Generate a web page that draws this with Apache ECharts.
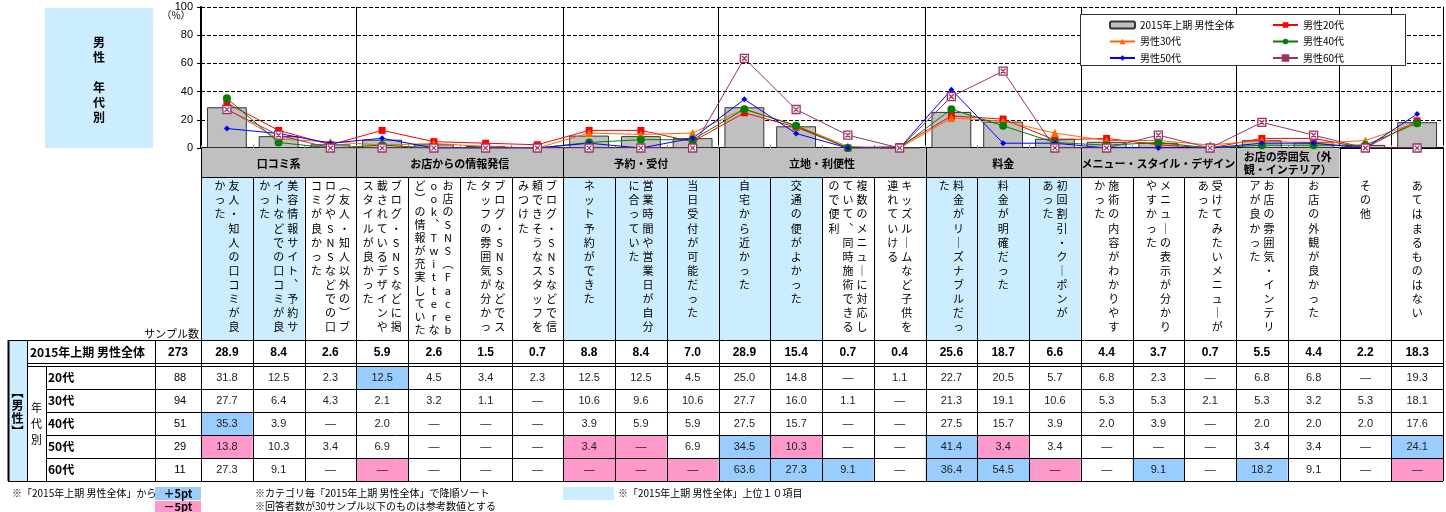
<!DOCTYPE html>
<html>
<head>
<meta charset="utf-8">
<title>男性 年代別</title>
<script src="https://cdn.jsdelivr.net/npm/echarts@6/dist/echarts.min.js"></script>
<style>
html, body { margin: 0; padding: 0; background: #fff; }
#main { width: 1446px; height: 512px; }
</style>
</head>
<body>
<div id="main"></div>
<script>
// 項目（\n は縦書きの折り返し位置）
const categories = [
    '友人・知人の口コミが良\nかった',
    '美容情報サイト、予約サ\nイトなどでの口コミが良\nかった',
    '（友人・知人以外の）ブ\nログやSNSなどでの口\nコミが良かった',
    'ブログ・SNSなどに掲\n載されているデザインや\nスタイルが良かった',
    'お店のSNS（Faceb\nook、Twitterな\nど）の情報が充実していた',
    'ブログ・SNSなどでス\nタッフの雰囲気が分かっ\nた',
    'ブログ・SNSなどで信\n頼できそうなスタッフを\nみつけた',
    'ネット予約ができた',
    '営業時間や営業日が自分\nに合っていた',
    '当日受付が可能だった',
    '自宅から近かった',
    '交通の便がよかった',
    '複数のメニューに対応し\nていて、同時施術できる\nので便利',
    'キッズルームなど子供を\n連れていける',
    '料金がリーズナブルだっ\nた',
    '料金が明確だった',
    '初回割引・クーポンが\nあった',
    '施術の内容がわかりやす\nかった',
    'メニューの表示が分かり\nやすかった',
    '受けてみたいメニューが\nあった',
    'お店の雰囲気・インテリ\nアが良かった',
    'お店の外観が良かった',
    'その他',
    'あてはまるものはない'
];

// カテゴリ見出し（空文字は見出しなし）
const groupNames = ['口コミ系', 'お店からの情報発信', '予約・受付', '立地・利便性', '料金',
    'メニュー・スタイル・デザイン', 'お店の雰囲気（外\n観・インテリア）', '', ''];
const groupSizes = [3, 4, 3, 4, 3, 3, 2, 1, 1];

// 「2015年上期 男性全体」上位10項目
const top10 = [0, 1, 7, 8, 9, 10, 11, 14, 15, 16];

const seriesNames = ['2015年上期 男性全体', '男性20代', '男性30代', '男性40代', '男性50代', '男性60代'];
const rowLabels = ['20代', '30代', '40代', '50代', '60代'];

const totalSample = 273;
const ageSamples = [88, 94, 51, 29, 11];

const allMale = [28.9, 8.4, 2.6, 5.9, 2.6, 1.5, 0.7, 8.8, 8.4, 7.0, 28.9, 15.4, 0.7, 0.4, 25.6, 18.7, 6.6, 4.4, 3.7, 0.7, 5.5, 4.4, 2.2, 18.3];
// null は「—」
const age20 = [31.8, 12.5, 2.3, 12.5, 4.5, 3.4, 2.3, 12.5, 12.5, 4.5, 25.0, 14.8, null, 1.1, 22.7, 20.5, 5.7, 6.8, 2.3, null, 6.8, 6.8, null, 19.3];
const age30 = [27.7, 6.4, 4.3, 2.1, 3.2, 1.1, null, 10.6, 9.6, 10.6, 27.7, 16.0, 1.1, null, 21.3, 19.1, 10.6, 5.3, 5.3, 2.1, 5.3, 3.2, 5.3, 18.1];
const age40 = [35.3, 3.9, null, 2.0, null, null, null, 3.9, 5.9, 5.9, 27.5, 15.7, null, null, 27.5, 15.7, 3.9, 2.0, 3.9, null, 2.0, 2.0, 2.0, 17.6];
const age50 = [13.8, 10.3, 3.4, 6.9, null, null, null, 3.4, null, 6.9, 34.5, 10.3, null, null, 41.4, 3.4, 3.4, null, null, null, 3.4, 3.4, null, 24.1];
const age60 = [27.3, 9.1, null, null, null, null, null, null, null, null, 63.6, 27.3, 9.1, null, 36.4, 54.5, null, null, 9.1, null, 18.2, 9.1, null, null];

const ageData = [age20, age30, age40, age50, age60];

const JP = '"Noto Sans CJK JP"';
const NUM = '"Liberation Sans", Arial';

// 表のレイアウト
const X0 = 201, CW = 51.75;
const colX = i => X0 + i * CW;
const Y_HEAD = 148, Y_TEXT = 177, Y_TBL = 340, Y_TOT = 363, Y_ROW = 366, ROW_H = 23, Y_END = 481;
const X_END = colX(categories.length);

let g = [];
const px = v => Math.round(v) + 0.5;
function addRect(x, y, w, h, fill, z, stroke) {
    g.push({ type: 'rect', z: z || 1, silent: true, shape: { x: x, y: y, width: w, height: h },
        style: { fill: fill, stroke: stroke || null, lineWidth: 1 } });
}
function addLine(x1, y1, x2, y2, w) {
    if (x1 === x2) { x1 = x2 = px(x1); } else { y1 = y2 = px(y1); }
    g.push({ type: 'line', z: 5, silent: true, shape: { x1: x1, y1: y1, x2: x2, y2: y2 },
        style: { stroke: '#000', lineWidth: w || 1 } });
}
function addText(x, y, s, font, align, vAlign, extra) {
    let style = Object.assign({ text: s, fill: '#000', font: font,
        align: align, textAlign: align, verticalAlign: vAlign, textVerticalAlign: vAlign }, extra || {});
    g.push({ type: 'text', z: 6, silent: true, x: x, y: y, style: style });
}
// 縦書き用の文字
function toVertical(s) {
    return s.replace(/ー/g, '｜').replace(/（/g, '︵').replace(/）/g, '︶').replace(/、/g, '︑');
}

// 左上の見出し
addRect(45, 8, 108, 140, '#CCECFF');
addText(99, 80, '男\n性\n\n年\n代\n別', 'bold 12px ' + JP, 'center', 'middle', { lineHeight: 15 });
addText(176, 15, '（%）', '10px ' + JP, 'center', 'middle');

// カテゴリ見出し行
let bounds = [0];
let start = 0;
groupNames.forEach((name, gi) => {
    const n = groupSizes[gi];
    const x1 = colX(start), x2 = colX(start + n);
    if (name) {
        addRect(x1, Y_HEAD, x2 - x1, Y_TEXT - Y_HEAD, '#C0C0C0');
        addText((x1 + x2) / 2, (Y_HEAD + Y_TEXT) / 2 + 1, name, 'bold 11px ' + JP, 'center', 'middle', { lineHeight: 13 });
        addLine(x1, Y_TEXT, x2, Y_TEXT);
    }
    start += n;
    bounds.push(start);
});

// 項目名（縦書き）
categories.forEach((label, i) => {
    if (top10.indexOf(i) >= 0) addRect(colX(i), Y_TEXT, CW, Y_TBL - Y_TEXT, '#CCECFF');
    const cols = toVertical(label).split('\n');
    const maxLen = Math.max.apply(null, cols.map(c => Array.from(c).length));
    const lh = maxLen > 11 ? 13.1 : 14.1;
    const cx = colX(i) + CW / 2;
    cols.forEach((c, k) => {
        const x = cx + ((cols.length - 1) / 2 - k) * 14;
        addText(x, 179, Array.from(c).join('\n'), '11px ' + JP, 'center', 'top', { lineHeight: lh });
    });
});
for (let i = 0; i <= categories.length; i++) {
    const y1 = bounds.indexOf(i) >= 0 ? Y_HEAD : Y_TEXT;
    addLine(colX(i), y1, colX(i), Y_END);
}
addText(199, 334, 'サンプル数', '11px ' + JP, 'right', 'middle');

// 表本体
addRect(8, Y_TBL, 19, Y_END - Y_TBL, '#CCECFF');
addText(17.5, 412, '︻\n男\n性\n︼', 'bold 12px ' + JP, 'center', 'middle', { lineHeight: 13 });
addText(36.5, 424, '年\n代\n別', '11px ' + JP, 'center', 'middle', { lineHeight: 16 });

let mid = (Y_TBL + Y_TOT) / 2 + 1;
addText(30, mid, seriesNames[0], 'bold 12px ' + JP, 'left', 'middle');
addText(178, mid, String(totalSample), 'bold 12px ' + NUM, 'center', 'middle');
allMale.forEach((v, i) => {
    addText(colX(i) + CW / 2, mid, v.toFixed(1), 'bold 12px ' + NUM, 'center', 'middle');
});

ageData.forEach((arr, r) => {
    const y = Y_ROW + r * ROW_H, m = y + ROW_H / 2;
    addText(48, m, rowLabels[r], 'bold 12px ' + JP, 'left', 'middle');
    addText(180, m, String(ageSamples[r]), '11px ' + NUM, 'center', 'middle');
    arr.forEach((v, i) => {
        const d = (v || 0) - allMale[i];
        if (d >= 5) addRect(colX(i), y, CW, ROW_H, '#99CCFF');
        else if (d <= -5) addRect(colX(i), y, CW, ROW_H, '#FF99CC');
        addText(colX(i) + CW / 2, m, v == null ? '—' : v.toFixed(1), '11px ' + NUM, 'center', 'middle', { fill: '#222' });
    });
});

addLine(8, Y_TBL, X_END, Y_TBL);
addLine(27, Y_TOT, X_END, Y_TOT);
addLine(27, Y_ROW, X_END, Y_ROW);
for (let r = 1; r < rowLabels.length; r++) addLine(46, Y_ROW + r * ROW_H, X_END, Y_ROW + r * ROW_H);
addLine(8, Y_END, X_END, Y_END);
addLine(8, Y_TBL, 8, Y_END, 2);
addLine(27, Y_TBL, 27, Y_END);
addLine(46, Y_ROW, 46, Y_END);
addLine(155, Y_TBL, 155, Y_END);

// 注記
addText(12, 493, '※「2015年上期 男性全体」から', '10px ' + JP, 'left', 'middle');
addRect(155, 487, 46, 13, '#99CCFF');
addText(178, 493.5, '＋5pt', 'bold 11px ' + JP, 'center', 'middle');
addRect(155, 501, 46, 11, '#FF99CC');
addText(178, 507, '－5pt', 'bold 11px ' + JP, 'center', 'middle');
addText(255, 493, '※カテゴリ毎「2015年上期 男性全体」で降順ソート', '10px ' + JP, 'left', 'middle');
addText(255, 506, '※回答者数が30サンプル以下のものは参考数値とする', '10px ' + JP, 'left', 'middle');
addRect(563, 487, 51, 13, '#CCECFF');
addText(618, 493, '※「2015年上期 男性全体」上位１０項目', '10px ' + JP, 'left', 'middle');

// 凡例の枠
addRect(1080.5, 14.5, 325, 51, '#fff', 50, '#333');

let myChart = echarts.init(document.getElementById('main'));

const lineConf = [
    { symbol: 'rect', size: 7, color: '#FF0000' },
    { symbol: 'triangle', size: 8, color: '#FF6600' },
    { symbol: 'circle', size: 8, color: '#008000' },
    { symbol: 'diamond', size: 6, color: '#0000FF' },
    { symbol: 'path://M0,0H10V10H0Z M2,2L8,8 M8,2L2,8', size: 8, color: '#993366' }
];

let series = [{
    name: seriesNames[0],
    type: 'bar',
    data: allMale,
    barWidth: '77%',
    itemStyle: { color: '#C0C0C0', borderColor: '#333', borderWidth: 1 }
}];
ageData.forEach((arr, k) => {
    const c = lineConf[k];
    series.push({
        name: seriesNames[k + 1],
        type: 'line',
        data: arr.map(v => v == null ? 0 : v),     // —は0として描く
        symbol: c.symbol,
        symbolSize: c.size,
        lineStyle: { color: c.color, width: 1 },
        itemStyle: k === 4 ? { color: '#fff', borderColor: c.color, borderWidth: 1.3 } : { color: c.color }
    });
});

const legendBase = {
    orient: 'vertical',
    top: 13,
    itemGap: 2.5,
    itemWidth: 25,
    itemHeight: 7,
    z: 60,
    selectedMode: false,
    textStyle: { fontSize: 10, fontFamily: JP, color: '#000', lineHeight: 14 }
};

let option = {
    animation: false,
    grid: { left: X0, right: 1446 - X_END, top: 7, bottom: 512 - Y_HEAD },
    legend: [
        Object.assign({}, legendBase, { left: 1104, data: [seriesNames[0], seriesNames[2], seriesNames[4]] }),
        Object.assign({}, legendBase, { left: 1267, data: [seriesNames[1], seriesNames[3], seriesNames[5]] })
    ],
    xAxis: {
        type: 'category',
        data: categories.map(c => c.replace(/\n/g, '')),
        axisLabel: { show: false },
        axisLine: { lineStyle: { color: '#000', width: 2 } },
        axisTick: { show: true, inside: true, length: 3, interval: 0, lineStyle: { color: '#888' } },
        splitLine: {     //カテゴリの区切り線
            show: true,
            interval: (i) => i > 0 && bounds.indexOf(i) >= 0,
            lineStyle: { color: '#000', width: 1, type: 'solid' }
        }
    },
    yAxis: [
        {
            type: 'value',
            min: 0,
            max: 100,
            interval: 20,
            axisLine: { show: true, lineStyle: { color: '#000', width: 2 } },
            axisTick: { show: true, length: 4, lineStyle: { color: '#000' } },
            axisLabel: { color: '#000', fontSize: 11, fontFamily: NUM, margin: 8 },
            splitLine: { show: true, lineStyle: { color: '#000', type: 'dashed', width: 1 } }
        },
        {
            type: 'value',
            position: 'right',
            min: 0,
            max: 100,
            interval: 20,
            axisLine: { show: true, lineStyle: { color: '#000', width: 1 } },
            axisTick: { show: false },
            axisLabel: { show: false },
            splitLine: { show: false }
        }
    ],
    series: series,
    graphic: { elements: g }
};

myChart.setOption(option);
</script>
</body>
</html>
